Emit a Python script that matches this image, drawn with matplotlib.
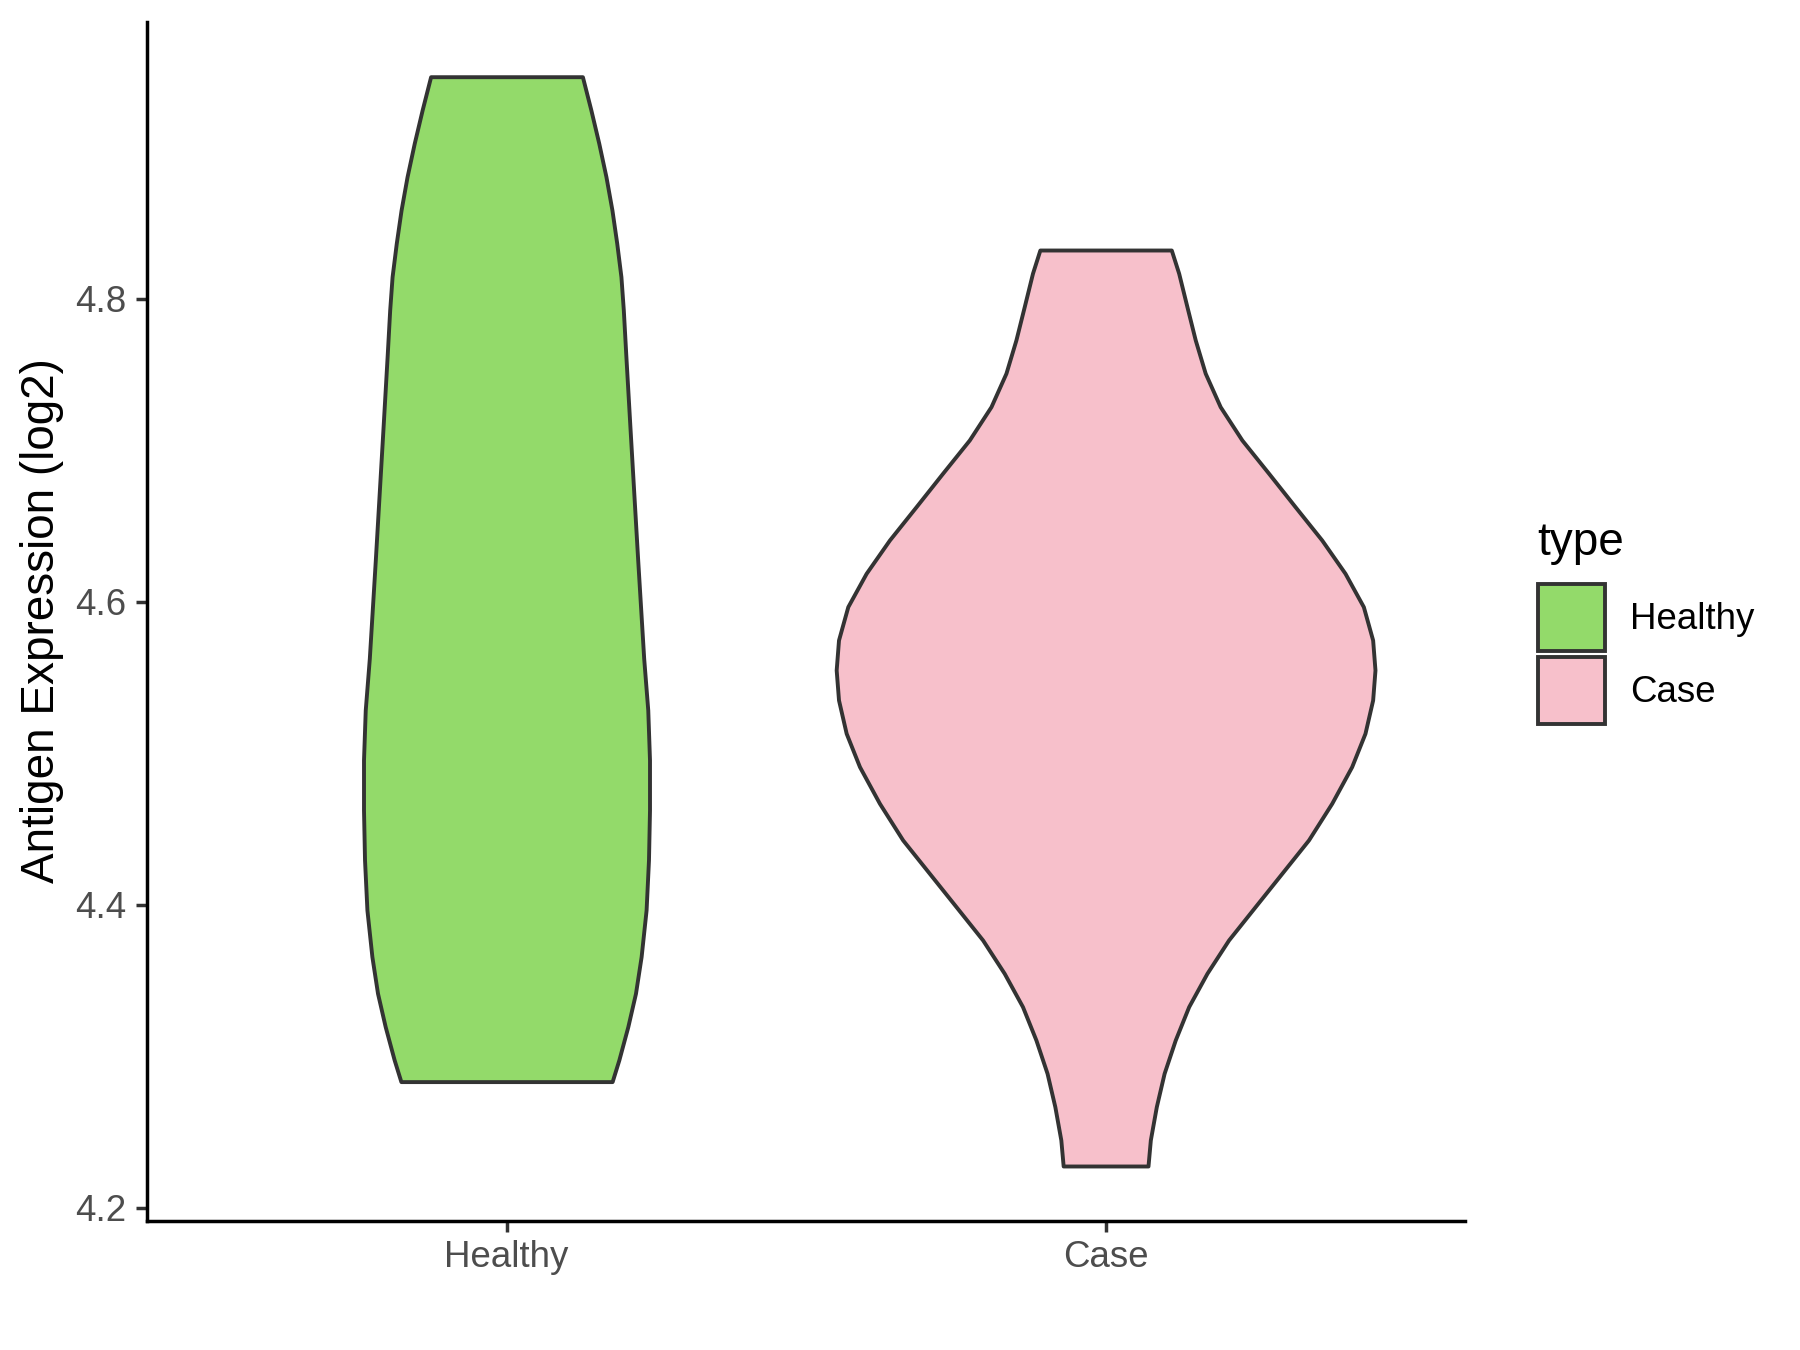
import matplotlib
matplotlib.use("Agg")
import matplotlib.pyplot as plt
from matplotlib.patches import Patch
import numpy as np

plt.rcParams['font.family'] = ['Liberation Sans', 'DejaVu Sans']

# ---- data ----
categories = ["Healthy", "Case"]
fill_colors = ["#93DA6A", "#F7C0CB"]

# violin outline: expression level (y) and half-width (x units) of the density shape
healthy_y = [4.9467, 4.9248, 4.9028, 4.8807, 4.8587, 4.8368, 4.8147, 4.7927, 4.7619,
             4.7157, 4.6717, 4.6277, 4.5628, 4.5287, 4.4957, 4.4627, 4.4297, 4.3967,
             4.3659, 4.3417, 4.3197, 4.2977, 4.2834]
healthy_half = [0.1267, 0.1408, 0.154, 0.166, 0.176, 0.184, 0.191, 0.195, 0.1993,
                0.206, 0.2125, 0.219, 0.229, 0.2358, 0.2387, 0.2387, 0.237, 0.233,
                0.2247, 0.2153, 0.2025, 0.1875, 0.1763]

case_y = [4.8323, 4.8170, 4.7949, 4.7729, 4.7510, 4.7289, 4.7069, 4.6850, 4.6629,
          4.6409, 4.6189, 4.5969, 4.5749, 4.5551, 4.5353, 4.5133, 4.4913, 4.4671,
          4.4429, 4.4209, 4.3989, 4.3769, 4.3549, 4.3329, 4.3109, 4.2889, 4.2669,
          4.2449, 4.2277]
case_half = [0.1097, 0.122, 0.1358, 0.1497, 0.1663, 0.1913, 0.2275, 0.272, 0.3163,
             0.3608, 0.3997, 0.4303, 0.4458, 0.4497, 0.4458, 0.433, 0.4108, 0.3775,
             0.3387, 0.2942, 0.2497, 0.2053, 0.1692, 0.1387, 0.1163, 0.0977, 0.0847,
             0.0747, 0.0708]

y_ticks = [4.2, 4.4, 4.6, 4.8]
y_tick_labels = ["4.2", "4.4", "4.6", "4.8"]
y_label = "Antigen Expression (log2)"
legend_title = "type"

# ---- figure ----
fig = plt.figure(figsize=(18, 13.5), dpi=100)
ax = fig.add_axes([0.0817, 0.0959, 0.7322, 0.8878])

profiles = [(healthy_y, healthy_half), (case_y, case_half)]
edge = "#333333"
for i, ((ys, hw), col) in enumerate(zip(profiles, fill_colors)):
    pos = i + 1
    ys = np.asarray(ys)
    hw = np.asarray(hw)
    ax.fill_betweenx(ys, pos - hw, pos + hw, facecolor=col, edgecolor=edge,
                     linewidth=2.8, zorder=2)

ax.set_xlim(0.4, 2.6)
ax.set_ylim(4.1917, 4.9828)
ax.set_xticks([1, 2])
ax.set_xticklabels(categories)
ax.set_yticks(y_ticks)
ax.set_yticklabels(y_tick_labels)

for s in ["top", "right"]:
    ax.spines[s].set_visible(False)
for s in ["left", "bottom"]:
    ax.spines[s].set_color("black")
    ax.spines[s].set_linewidth(2.5)

ax.tick_params(axis="both", colors="#333333", length=8, width=2.5,
               labelsize=26.4, labelcolor="#4D4D4D")
ax.tick_params(axis="y", pad=7)
ax.tick_params(axis="x", pad=6)

fig.text(42 / 1800, 1 - 621 / 1350, y_label, rotation=90, ha="center",
         va="center", fontsize=33, color="black")

handles = [Patch(facecolor=c, edgecolor=edge, linewidth=2.8, label=l)
           for c, l in zip(fill_colors, categories)]
leg = ax.legend(handles=handles, loc="upper left",
                bbox_to_anchor=(1538 / 1800, 1 - 584 / 1350),
                bbox_transform=fig.transFigure, frameon=False,
                fontsize=26.4, handlelength=1.83, handleheight=2.43,
                labelspacing=0.17, handletextpad=0.68, borderpad=0,
                borderaxespad=0)
fig.text(1537 / 1800, 1 - 555 / 1350, legend_title, ha="left", va="baseline",
         fontsize=33, color="black")

fig.savefig("out.png", dpi=100)
